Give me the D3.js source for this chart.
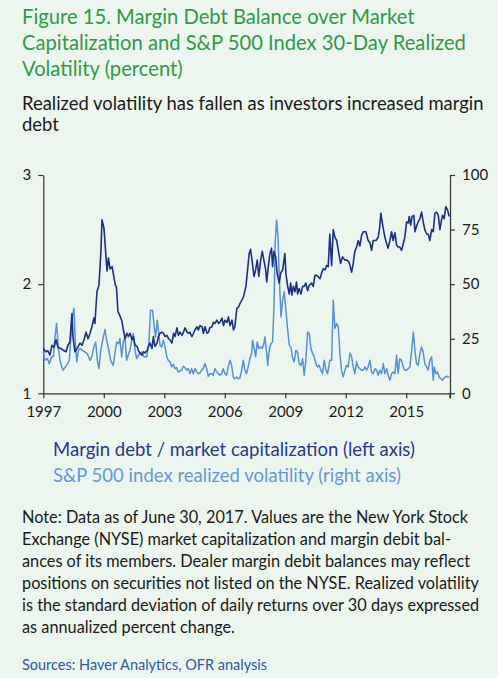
<!DOCTYPE html>
<html><head><meta charset="utf-8">
<script src="https://cdn.jsdelivr.net/npm/d3@7/dist/d3.min.js"></script>
<style>
body{margin:0;background:#edf6ee;}
svg{display:block;font-family:Lato,"Open Sans",sans-serif;}
</style>
</head><body>
<svg id="chart" width="498" height="678"></svg>
<script>
const titleLines = ["Figure 15. Margin Debt Balance over Market","Capitalization and S&P 500 Index 30-Day Realized","Volatility (percent)"];
const subtitleLines = ["Realized volatility has fallen as investors increased margin","debt"];
const legendLabels = ["Margin debt / market capitalization (left axis)","S&P 500 index realized volatility (right axis)"];
const noteLines = ["Note: Data as of June 30, 2017. Values are the New York Stock","Exchange (NYSE) market capitalization and margin debit bal-","ances of its members. Dealer margin debit balances may reflect","positions on securities not listed on the NYSE. Realized volatility","is the standard deviation of daily returns over 30 days expressed","as annualized percent change."];
const sourceText = "Sources: Haver Analytics, OFR analysis";

const xTickYears = [1997,2000,2003,2006,2009,2012,2015];
const leftTicks = [1,2,3];
const rightTicks = [0,25,50,75,100];

const debtYears = [1997.00,1997.13,1997.23,1997.33,1997.43,1997.53,1997.63,1997.73,1997.88,1998.03,1998.13,1998.22,1998.32,1998.42,1998.47,1998.57,1998.67,1998.82,1998.92,1999.02,1999.12,1999.22,1999.32,1999.41,1999.51,1999.56,1999.66,1999.76,1999.86,1999.91,2000.01,2000.06,2000.16,2000.23,2000.31,2000.41,2000.48,2000.56,2000.63,2000.70,2000.80,2000.90,2000.98,2001.06,2001.15,2001.22,2001.30,2001.40,2001.47,2001.55,2001.65,2001.72,2001.79,2001.89,2001.97,2002.04,2002.14,2002.22,2002.29,2002.39,2002.46,2002.54,2002.64,2002.71,2002.79,2002.89,2002.96,2003.04,2003.13,2003.21,2003.28,2003.38,2003.46,2003.53,2003.63,2003.70,2003.78,2003.88,2003.95,2004.03,2004.13,2004.20,2004.27,2004.37,2004.45,2004.52,2004.62,2004.69,2004.77,2004.87,2004.94,2005.02,2005.12,2005.19,2005.26,2005.36,2005.44,2005.51,2005.61,2005.69,2005.76,2005.86,2005.94,2006.01,2006.11,2006.18,2006.26,2006.36,2006.43,2006.50,2006.60,2006.68,2006.75,2006.92,2007.05,2007.13,2007.21,2007.28,2007.35,2007.45,2007.53,2007.61,2007.69,2007.78,2007.86,2007.94,2008.03,2008.08,2008.16,2008.24,2008.32,2008.37,2008.44,2008.52,2008.60,2008.70,2008.77,2008.87,2008.98,2009.03,2009.12,2009.20,2009.27,2009.33,2009.40,2009.48,2009.56,2009.61,2009.69,2009.78,2009.86,2009.94,2010.02,2010.11,2010.19,2010.31,2010.39,2010.47,2010.56,2010.63,2010.72,2010.80,2010.88,2010.97,2011.05,2011.13,2011.21,2011.30,2011.38,2011.46,2011.55,2011.63,2011.74,2011.84,2011.96,2012.07,2012.17,2012.29,2012.37,2012.45,2012.54,2012.62,2012.70,2012.79,2012.87,2013.00,2013.11,2013.20,2013.28,2013.36,2013.50,2013.61,2013.69,2013.74,2013.83,2013.94,2014.03,2014.10,2014.19,2014.27,2014.35,2014.44,2014.52,2014.60,2014.68,2014.77,2014.85,2014.93,2015.02,2015.10,2015.15,2015.22,2015.29,2015.38,2015.43,2015.51,2015.59,2015.68,2015.76,2015.84,2015.92,2016.01,2016.09,2016.17,2016.26,2016.34,2016.42,2016.50,2016.59,2016.67,2016.75,2016.80,2016.88,2016.96,2017.05,2017.13];
const debtValues = [1.41,1.38,1.39,1.35,1.44,1.42,1.49,1.42,1.41,1.39,1.38,1.44,1.47,1.73,1.52,1.38,1.41,1.46,1.44,1.49,1.56,1.50,1.55,1.61,1.69,1.64,1.93,1.99,2.31,2.59,2.51,2.38,2.12,2.24,2.14,2.16,2.09,2.00,1.97,1.75,1.71,1.66,1.57,1.50,1.55,1.52,1.55,1.49,1.52,1.44,1.43,1.39,1.37,1.35,1.38,1.37,1.39,1.43,1.46,1.41,1.52,1.43,1.46,1.52,1.55,1.56,1.55,1.52,1.53,1.50,1.49,1.46,1.55,1.52,1.60,1.53,1.56,1.53,1.56,1.60,1.56,1.55,1.56,1.52,1.55,1.58,1.61,1.58,1.62,1.61,1.55,1.61,1.55,1.56,1.60,1.61,1.65,1.64,1.67,1.64,1.65,1.69,1.62,1.67,1.65,1.70,1.62,1.67,1.58,1.61,1.78,1.79,1.82,1.88,1.98,2.13,2.28,2.32,2.22,2.07,2.13,2.22,2.07,2.22,2.30,2.22,2.13,2.02,2.16,2.28,2.33,2.16,2.30,2.25,2.10,2.01,2.10,2.13,2.28,2.10,1.98,1.91,2.01,1.90,1.98,1.93,2.02,1.91,1.96,1.91,1.98,1.98,2.01,1.94,1.99,2.01,1.98,2.08,2.08,2.07,2.05,2.10,2.14,2.13,2.17,2.16,2.46,2.17,2.50,2.43,2.40,2.31,2.19,2.25,2.22,2.22,2.20,2.11,2.19,2.30,2.34,2.40,2.35,2.45,2.48,2.48,2.40,2.38,2.31,2.40,2.40,2.43,2.53,2.65,2.54,2.43,2.37,2.33,2.40,2.48,2.40,2.47,2.36,2.34,2.34,2.31,2.37,2.43,2.57,2.56,2.62,2.54,2.62,2.63,2.48,2.53,2.57,2.60,2.66,2.57,2.50,2.46,2.46,2.40,2.50,2.48,2.65,2.66,2.63,2.50,2.59,2.63,2.60,2.71,2.68,2.62];

const volYears = [1997.00,1997.08,1997.20,1997.30,1997.42,1997.50,1997.58,1997.66,1997.74,1997.83,1997.91,1997.99,1998.09,1998.21,1998.29,1998.37,1998.44,1998.52,1998.59,1998.66,1998.74,1998.82,1998.95,1999.07,1999.18,1999.32,1999.40,1999.51,1999.60,1999.68,1999.76,1999.85,1999.94,2000.06,2000.14,2000.22,2000.34,2000.47,2000.55,2000.64,2000.74,2000.80,2000.89,2000.97,2001.05,2001.13,2001.21,2001.30,2001.38,2001.46,2001.55,2001.63,2001.76,2001.88,2001.99,2002.13,2002.24,2002.32,2002.42,2002.50,2002.57,2002.65,2002.79,2002.87,2002.95,2003.04,2003.12,2003.20,2003.28,2003.37,2003.45,2003.53,2003.61,2003.69,2003.78,2003.86,2003.94,2004.03,2004.11,2004.19,2004.27,2004.36,2004.44,2004.52,2004.61,2004.69,2004.77,2004.85,2004.93,2005.02,2005.10,2005.18,2005.26,2005.35,2005.43,2005.51,2005.60,2005.68,2005.76,2005.84,2005.92,2006.01,2006.09,2006.17,2006.26,2006.34,2006.42,2006.50,2006.59,2006.67,2006.75,2006.84,2006.92,2007.00,2007.08,2007.16,2007.25,2007.33,2007.38,2007.45,2007.53,2007.61,2007.69,2007.78,2007.86,2007.94,2007.99,2008.08,2008.13,2008.20,2008.29,2008.37,2008.44,2008.50,2008.57,2008.64,2008.70,2008.79,2008.87,2008.95,2009.03,2009.12,2009.20,2009.28,2009.37,2009.44,2009.53,2009.61,2009.69,2009.78,2009.86,2009.94,2010.02,2010.11,2010.19,2010.27,2010.36,2010.44,2010.52,2010.60,2010.68,2010.77,2010.85,2010.93,2011.02,2011.10,2011.21,2011.30,2011.38,2011.46,2011.55,2011.63,2011.71,2011.79,2011.87,2011.96,2012.04,2012.12,2012.21,2012.29,2012.37,2012.45,2012.54,2012.62,2012.70,2012.79,2012.87,2012.95,2013.03,2013.11,2013.20,2013.28,2013.36,2013.45,2013.53,2013.61,2013.69,2013.78,2013.86,2013.94,2014.03,2014.10,2014.19,2014.27,2014.35,2014.44,2014.52,2014.60,2014.68,2014.77,2014.85,2014.93,2015.02,2015.10,2015.18,2015.27,2015.35,2015.43,2015.51,2015.59,2015.68,2015.76,2015.84,2015.92,2016.01,2016.09,2016.17,2016.26,2016.34,2016.39,2016.47,2016.55,2016.63,2016.71,2016.80,2016.88,2016.96,2017.05,2017.13];
const volValues = [18.9,15.1,15.9,13.6,16.7,16.7,25.8,32.0,21.2,15.1,12.1,10.6,12.1,13.6,15.1,25.8,35.0,38.9,22.8,14.4,19.7,20.5,19.7,18.9,18.2,15.1,16.7,21.2,23.5,15.1,11.3,19.7,24.3,29.2,24.3,21.2,15.1,12.8,18.2,23.5,22.8,25.1,16.7,23.5,25.8,15.1,17.4,19.7,24.3,27.4,19.7,15.9,18.2,18.9,16.7,16.7,23.5,38.1,38.1,30.4,25.8,33.5,22.0,21.2,24.3,21.2,16.7,15.1,14.4,12.1,13.3,11.3,11.8,9.8,10.2,10.6,12.4,11.8,10.6,11.3,9.0,11.3,9.0,11.3,9.8,9.0,9.3,10.6,11.3,13.6,11.3,7.8,9.0,9.0,8.3,11.3,9.8,9.0,8.3,9.0,11.3,9.0,8.3,12.1,15.1,12.8,7.5,6.7,7.5,6.7,7.0,10.6,15.1,10.6,9.0,12.1,15.9,18.2,24.3,21.2,16.7,23.5,20.5,21.2,20.5,22.8,25.8,18.2,12.8,19.7,22.8,23.5,39.6,68.7,79.4,71.7,53.3,35.0,42.7,46.5,38.1,28.9,22.0,21.2,15.9,14.4,19.7,18.9,13.6,12.8,15.9,8.3,15.1,28.1,27.4,20.5,18.2,16.7,13.6,12.1,12.8,10.6,9.0,15.1,10.6,9.0,15.1,15.1,42.7,29.7,32.0,30.4,18.2,10.6,7.5,10.6,12.8,12.1,18.5,16.7,12.1,9.0,14.4,12.1,11.3,10.6,10.6,12.1,10.6,12.1,15.1,9.8,9.0,11.3,10.6,8.3,10.6,9.0,13.6,9.0,11.3,8.3,6.0,9.0,9.8,9.0,17.4,9.0,15.9,15.1,12.1,10.6,10.6,11.3,12.1,19.7,28.1,19.7,13.6,12.8,18.2,21.2,18.9,13.6,12.1,10.6,15.1,16.7,6.0,12.1,9.0,9.8,7.5,6.7,6.0,7.2,7.5,7.8,7.2];

const darkBlue = "#1d2f82";
const lightBlue = "#5a8fd5";
const green = "#2f9a4a";

const svg = d3.select("#chart");
svg.append("rect").attr("width",498).attr("height",678).attr("fill","#edf6ee");

// scale a block's font so its first line spans the reference width
function fitBlock(sel, targetWidth){
  const first = sel.nodes()[0];
  const fs = parseFloat(d3.select(first).attr("font-size"));
  const w = first.getComputedTextLength();
  if (w > 0) sel.attr("font-size", (fs*targetWidth/w).toFixed(2));
}

// Title
const title = svg.append("g").selectAll("text").data(titleLines).join("text")
  .attr("x",22).attr("y",(d,i)=>24+i*26)
  .attr("fill",green).attr("font-size",20).text(d=>d);
fitBlock(title, 393);

const sub = svg.append("g").selectAll("text").data(subtitleLines).join("text")
  .attr("x",22).attr("y",(d,i)=>110+i*21)
  .attr("fill","#1a1a1a").attr("font-size",17.8).text(d=>d);
fitBlock(sub, 461);

// Scales
const x = d3.scaleLinear().domain([1997, 2017.17]).range([43.3, 450]);
const yL = d3.scaleLinear().domain([1,3]).range([393.3,175]);
const yR = d3.scaleLinear().domain([0,100]).range([393.3,175]);

const axisColor = "#333";
const gx = svg.append("g").attr("transform","translate(0,393.3)")
  .call(d3.axisBottom(x).tickValues(xTickYears.concat([2017.17])).tickFormat(d=>xTickYears.includes(d)?String(d):"").tickSize(5).tickSizeOuter(0));
const gl = svg.append("g").attr("transform","translate(43.3,0)")
  .call(d3.axisLeft(yL).tickValues(leftTicks).tickFormat(d3.format("d")).tickSize(5).tickSizeOuter(0));
const gr = svg.append("g").attr("transform","translate(450,0)")
  .call(d3.axisRight(yR).tickValues(rightTicks).tickFormat(d3.format("d")).tickSize(5).tickSizeOuter(0));
[gx,gl,gr].forEach(g=>{
  g.select(".domain").attr("stroke",axisColor).attr("stroke-width",1.2);
  g.selectAll(".tick line").attr("stroke",axisColor).attr("stroke-width",1.2);
  g.selectAll("text").attr("fill","#1a1a1a").attr("font-size",15).attr("font-family","Lato, sans-serif");
});
gx.selectAll(".tick text").attr("dy","1.05em");
gl.selectAll(".tick text").attr("x",-12);
gr.selectAll(".tick text").attr("x",12);
svg.append("line").attr("x1",450).attr("x2",450).attr("y1",393.3).attr("y2",398.3).attr("stroke",axisColor).attr("stroke-width",1.2);

// Lines
const debtData = debtYears.map((t,i)=>({t,v:debtValues[i]}));
const volData = volYears.map((t,i)=>({t,v:volValues[i]}));
svg.append("path").datum(volData)
  .attr("fill","none").attr("stroke",lightBlue).attr("stroke-width",1.5).attr("stroke-linejoin","round")
  .attr("d",d3.line().x(d=>x(d.t)).y(d=>yR(d.v)));
svg.append("path").datum(debtData)
  .attr("fill","none").attr("stroke",darkBlue).attr("stroke-width",1.6).attr("stroke-linejoin","round")
  .attr("d",d3.line().x(d=>x(d.t)).y(d=>yL(d.v)));

// Legend
const leg = svg.append("g").selectAll("text").data(legendLabels).join("text")
  .attr("x",53).attr("y",(d,i)=>456+i*26)
  .attr("fill",(d,i)=>i===0?"#2a378a":"#6596db").attr("font-size",18.5).text(d=>d);
fitBlock(leg, 362);

// Note
const note = svg.append("g").selectAll("text").data(noteLines).join("text")
  .attr("x",22).attr("y",(d,i)=>523+i*22)
  .attr("fill","#1a1a1a").attr("font-size",16.2).text(d=>d);
fitBlock(note, 446);

const src = svg.append("text").attr("x",22).attr("y",670).attr("fill","#2f57a6").attr("font-size",14.5).text(sourceText);
fitBlock(src, 245);
</script>
</body></html>
